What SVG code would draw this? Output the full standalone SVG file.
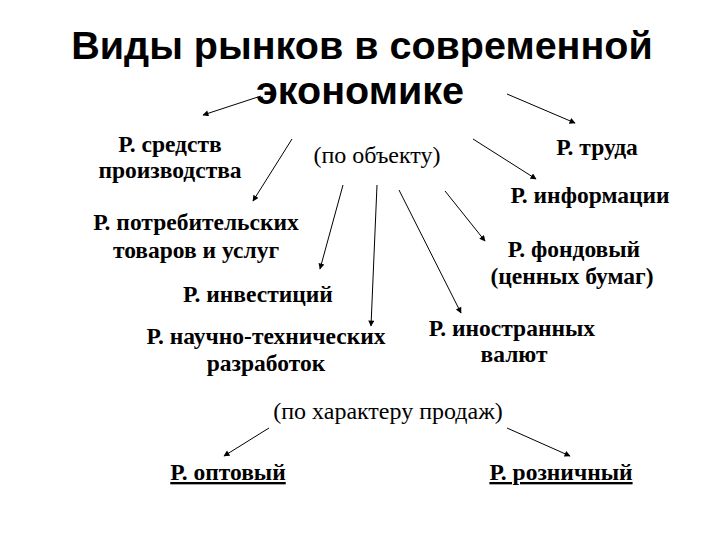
<svg xmlns="http://www.w3.org/2000/svg" width="720" height="540" viewBox="0 0 720 540">
<style>
.title{font-family:"Liberation Sans",Arial,sans-serif;font-weight:bold;font-size:39.5px;fill:#000;text-anchor:middle}
.lbl{font-family:"Liberation Serif","Times New Roman",serif;font-weight:bold;font-size:23.5px;fill:#000;text-anchor:middle}
.cat{font-family:"Liberation Serif","Times New Roman",serif;font-size:24px;fill:#000;text-anchor:middle}
.u{text-decoration:underline}
.arr{stroke:#000;stroke-width:1;fill:none;marker-end:url(#ah)}
</style>
<defs>
<marker id="ah" viewBox="0 0 10 10" refX="9" refY="5" markerWidth="9" markerHeight="6" markerUnits="userSpaceOnUse" orient="auto">
<path d="M0,0 L10,5 L0,10 z" fill="#000"/>
</marker>
</defs>
<rect width="720" height="540" fill="#fff"/>
<g id="title">
<text class="title" x="362" y="59">Виды рынков в современной</text>
<text class="title" x="360" y="104">экономике</text>
</g>
<g id="cat-object"><text class="cat" x="377" y="163">(по объекту)</text></g>
<g id="cat-sales"><text class="cat" x="388" y="419">(по характеру продаж)</text></g>
<g id="n-means"><text class="lbl" x="170" y="152">Р. средств</text><text class="lbl" x="170" y="178">производства</text></g>
<g id="n-labour"><text class="lbl" x="597" y="155">Р. труда</text></g>
<g id="n-info"><text class="lbl" x="590" y="203">Р. информации</text></g>
<g id="n-consumer"><text class="lbl" x="196" y="230">Р. потребительских</text><text class="lbl" x="196" y="258">товаров и услуг</text></g>
<g id="n-stock"><text class="lbl" x="574" y="257">Р. фондовый</text><text class="lbl" x="572" y="284">(ценных бумаг)</text></g>
<g id="n-invest"><text class="lbl" x="258" y="302">Р. инвестиций</text></g>
<g id="n-currency"><text class="lbl" x="512" y="336">Р. иностранных</text><text class="lbl" x="514" y="362">валют</text></g>
<g id="n-rnd"><text class="lbl" x="266" y="344">Р. научно-технических</text><text class="lbl" x="266" y="371">разработок</text></g>
<g id="n-wholesale"><text class="lbl u" x="228" y="480">Р. оптовый</text></g>
<g id="n-retail"><text class="lbl u" x="561" y="480">Р. розничный</text></g>
<g id="connectors">
<line class="arr" x1="261" y1="96" x2="203" y2="115"/>
<line class="arr" x1="292" y1="139" x2="253" y2="201"/>
<line class="arr" x1="343" y1="185" x2="320" y2="269"/>
<line class="arr" x1="377" y1="185" x2="371" y2="326"/>
<line class="arr" x1="399" y1="190" x2="461" y2="313"/>
<line class="arr" x1="445" y1="191" x2="485" y2="241"/>
<line class="arr" x1="473" y1="139" x2="536" y2="179"/>
<line class="arr" x1="507" y1="94" x2="575" y2="123"/>
<line class="arr" x1="269" y1="428" x2="224" y2="456"/>
<line class="arr" x1="507" y1="428" x2="570" y2="456"/>
</g>
</svg>
